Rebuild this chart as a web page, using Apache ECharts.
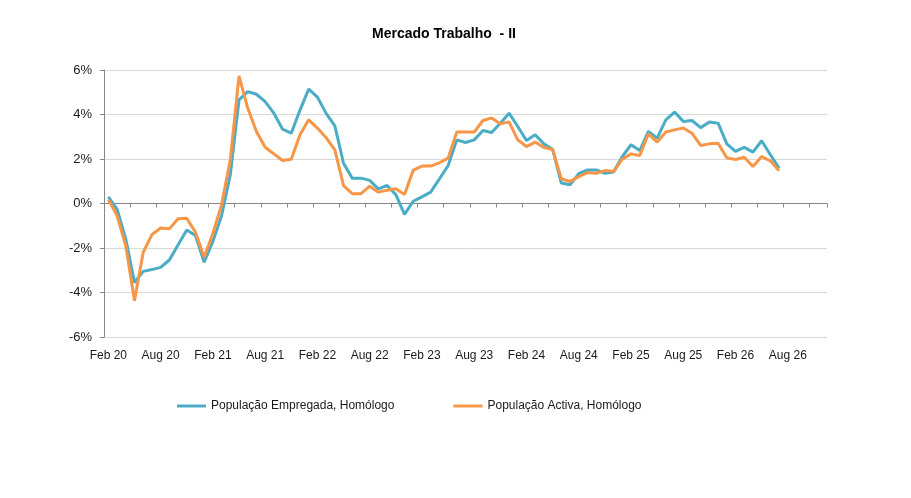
<!DOCTYPE html>
<html>
<head>
<meta charset="utf-8">
<script src="https://cdn.jsdelivr.net/npm/echarts@6/dist/echarts.min.js"></script>
<style>
  html, body { margin: 0; padding: 0; background: #fff; }
  #chart { width: 911px; height: 498px; }
</style>
</head>
<body>
<div id="chart"></div>
<script>
// meses do eixo (Feb 20 .. Dec 26)
var categories = [
    'Feb 20','Mar 20','Apr 20','May 20','Jun 20','Jul 20','Aug 20','Sep 20','Oct 20','Nov 20','Dec 20',
    'Jan 21','Feb 21','Mar 21','Apr 21','May 21','Jun 21','Jul 21','Aug 21','Sep 21','Oct 21','Nov 21','Dec 21',
    'Jan 22','Feb 22','Mar 22','Apr 22','May 22','Jun 22','Jul 22','Aug 22','Sep 22','Oct 22','Nov 22','Dec 22',
    'Jan 23','Feb 23','Mar 23','Apr 23','May 23','Jun 23','Jul 23','Aug 23','Sep 23','Oct 23','Nov 23','Dec 23',
    'Jan 24','Feb 24','Mar 24','Apr 24','May 24','Jun 24','Jul 24','Aug 24','Sep 24','Oct 24','Nov 24','Dec 24',
    'Jan 25','Feb 25','Mar 25','Apr 25','May 25','Jun 25','Jul 25','Aug 25','Sep 25','Oct 25','Nov 25','Dec 25',
    'Jan 26','Feb 26','Mar 26','Apr 26','May 26','Jun 26','Jul 26','Aug 26','Sep 26','Oct 26','Nov 26','Dec 26'
];

var seriesNames = ['População Empregada, Homólogo', 'População Activa, Homólogo'];

// variação homóloga (%)
var empregada = [
    0.30, -0.25, -1.60, -3.55, -3.05, -2.97, -2.87, -2.54, -1.86, -1.19, -1.44,
    -2.64, -1.70, -0.55, 1.29, 4.66, 5.03, 4.91, 4.58, 4.06, 3.34, 3.16, 4.20,
    5.14, 4.78, 4.05, 3.49, 1.81, 1.14, 1.14, 1.04, 0.66, 0.81, 0.40, -0.49,
    0.10, 0.30, 0.51, 1.10, 1.70, 2.86, 2.74, 2.86, 3.28, 3.19, 3.61, 4.06,
    3.46, 2.83, 3.09, 2.68, 2.44, 0.92, 0.84, 1.34, 1.51, 1.51, 1.36, 1.42,
    2.11, 2.64, 2.38, 3.24, 2.94, 3.76, 4.11, 3.69, 3.73, 3.41, 3.66, 3.61,
    2.68, 2.34, 2.52, 2.31, 2.82, 2.19, 1.59
];
var activa = [
    0.17, -0.54, -1.90, -4.37, -2.19, -1.40, -1.10, -1.14, -0.69, -0.66, -1.29,
    -2.42, -1.35, -0.05, 1.96, 5.74, 4.29, 3.24, 2.53, 2.23, 1.93, 1.99, 3.09,
    3.76, 3.39, 2.96, 2.41, 0.80, 0.44, 0.44, 0.78, 0.51, 0.60, 0.66, 0.40,
    1.50, 1.68, 1.68, 1.83, 2.04, 3.21, 3.21, 3.21, 3.73, 3.84, 3.58, 3.67,
    2.86, 2.56, 2.76, 2.52, 2.44, 1.11, 0.99, 1.21, 1.39, 1.36, 1.48, 1.44,
    1.99, 2.23, 2.16, 3.13, 2.76, 3.21, 3.31, 3.39, 3.16, 2.61, 2.68, 2.71,
    2.05, 1.98, 2.08, 1.66, 2.11, 1.92, 1.47
];

var yMin = -6, yMax = 6, yStep = 2;

var font = '"Liberation Sans", Arial, sans-serif';
var axisGray = '#868686';
var gridGray = '#d9d9d9';

var myEcharts = echarts.init(document.getElementById('chart'), null, {renderer: 'canvas'});
var option = {
    animation: false,
    backgroundColor: '#fff',
    title: {
        text: 'Mercado Trabalho  - II',
        left: 367,
        top: 22,
        textStyle: {fontFamily: font, fontSize: 14, fontWeight: 'bold', color: '#000'}
    },
    legend: {
        left: 177,
        top: 400,
        padding: 0,
        itemGap: 59,
        itemWidth: 29,
        itemHeight: 3,
        itemTextGap: 4,
        icon: 'rect',
        textStyle: {fontFamily: font, fontSize: 12, color: '#1a1a1a'},
        data: seriesNames
    },
    grid: {left: 104, right: 84, top: 70, bottom: 161, containLabel: false},
    xAxis: [
        {
            // eixo no 0% com os tracos
            type: 'category',
            data: categories,
            boundaryGap: true,
            axisLine: {onZero: true, lineStyle: {color: axisGray, width: 1}},
            axisTick: {show: true, interval: 2, length: 4, lineStyle: {color: axisGray}},
            axisLabel: {show: false},
            splitLine: {show: false}
        },
        {
            // etiquetas em baixo
            type: 'category',
            data: categories,
            position: 'bottom',
            boundaryGap: true,
            axisLine: {show: false, onZero: false},
            axisTick: {show: false},
            axisLabel: {
                interval: 5,
                margin: 13,
                fontFamily: font,
                fontSize: 12,
                color: '#1a1a1a'
            },
            splitLine: {show: false}
        }
    ],
    yAxis: {
        type: 'value',
        min: yMin,
        max: yMax,
        interval: yStep,
        axisLine: {show: true, lineStyle: {color: axisGray}},
        axisTick: {show: true, length: 4, lineStyle: {color: axisGray}},
        axisLabel: {
            margin: 12,
            fontFamily: font,
            fontSize: 13,
            color: '#1a1a1a',
            formatter: function (v) { return v + '%'; }
        },
        splitLine: {show: true, lineStyle: {color: gridGray, width: 1}}
    },
    series: [
        {
            name: seriesNames[0],
            type: 'line',
            xAxisIndex: 0,
            data: empregada,
            symbol: 'none',
            lineStyle: {color: '#4bacc6', width: 3},
            itemStyle: {color: '#4bacc6'}
        },
        {
            name: seriesNames[1],
            type: 'line',
            xAxisIndex: 0,
            data: activa,
            symbol: 'none',
            lineStyle: {color: '#f79646', width: 3},
            itemStyle: {color: '#f79646'}
        }
    ]
};
myEcharts.setOption(option);
</script>
</body>
</html>
